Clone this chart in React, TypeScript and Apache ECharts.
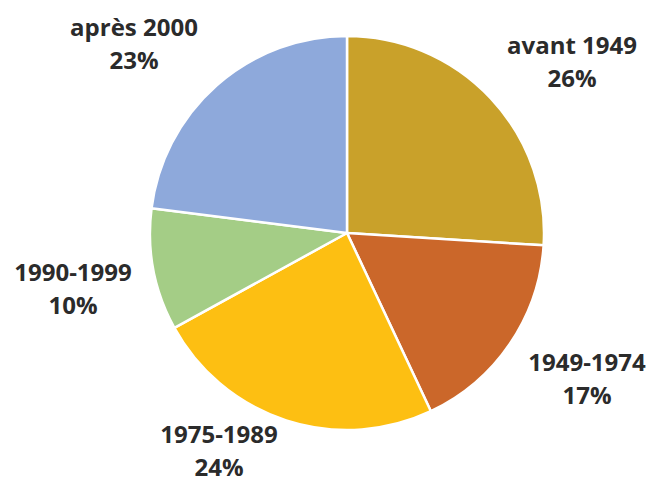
import React, { useEffect, useRef } from "react";
import * as echarts from "echarts";

const categories = ["avant 1949", "1949-1974", "1975-1989", "1990-1999", "après 2000"];
const shares = [26, 17, 24, 10, 23];
const colors = ["#C9A12A", "#CB672A", "#FDBF12", "#A4CD86", "#8EA9DB"];
const labelPos: [number, number][] = [
  [572, 61],
  [587, 378],
  [219, 450],
  [73, 288],
  [134, 43],
];

export default function App() {
  const ref = useRef<HTMLDivElement>(null);
  useEffect(() => {
    if (!ref.current) return;
    const chart = echarts.init(ref.current, null, { renderer: "svg" });
    chart.setOption({
      animation: false,
      backgroundColor: "#ffffff",
      series: [
        {
          type: "pie",
          center: [347, 233],
          radius: [0, 197],
          startAngle: 90,
          clockwise: true,
          data: categories.map((c, i) => ({
            name: c,
            value: shares[i],
            itemStyle: { color: colors[i] },
          })),
          itemStyle: { borderColor: "#ffffff", borderWidth: 2.5 },
          label: {
            show: true,
            position: "outside",
            formatter: (p: any) => `${p.name}\n${p.value}%`,
            fontFamily: "Open Sans",
            fontWeight: "bold",
            fontSize: 24,
            lineHeight: 33,
            color: "#2b2b2b",
            align: "center",
            overflow: "none",
            width: 200,
          },
          labelLine: { show: false },
          labelLayout: (params: any) => {
            const [x, y] = labelPos[params.dataIndex];
            return { x, y, align: "center", verticalAlign: "middle" };
          },
        },
      ],
    });
    return () => chart.dispose();
  }, []);
  return (
    <div
      ref={ref}
      style={{ position: "fixed", left: 0, top: 0, width: 649, height: 477 }}
    />
  );
}
